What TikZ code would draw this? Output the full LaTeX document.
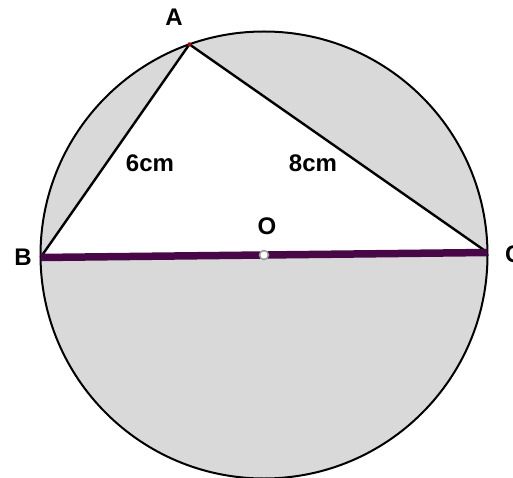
\documentclass[tikz,border=0pt]{standalone}
\usepackage{fontspec}
\setmainfont{Liberation Sans}
\usetikzlibrary{calc}
\definecolor{discgray}{RGB}{217,217,217}
\definecolor{diampurple}{RGB}{72,8,72}

\begin{document}
\begin{tikzpicture}[
  x=1pt, y=1pt,
  lbl/.style={font=\fontsize{24}{26}\selectfont\bfseries, inner sep=0pt},
  side/.style={draw=black, line width=2.4pt},
  diam/.style={draw=diampurple, line width=7.5pt},
  ctr/.style={circle, draw=black!40, fill=white, line width=1.5pt,
              inner sep=0pt, minimum size=9pt}
]
\useasboundingbox (0,0) rectangle (513,477);
\coordinate (O) at (264,222);
\coordinate (B) at ($(O)+(180.64:223.5)$);
\coordinate (C) at ($(O)+(0.64:223.5)$);
\coordinate (A) at ($(O)+(109.5:223.5)$);
% disc with the triangle cut out
\fill[discgray] (O) circle (223.5);
\fill[white] (A) -- (B) -- (C) -- cycle;
\draw[line width=2pt] (O) circle (223.5);
\draw[side] (B) -- (A) -- (C);
\draw[diam] (B) -- (C);
\fill[red!70!black] (A) circle (2pt);
\node[ctr] (o) at (O) {};
% labels
\node[lbl] (lA) at (174,460) {A};
\node[lbl] (lB) at (23,220) {B};
\node[lbl, anchor=west] (lC) at (505,223) {C};
\node[lbl] (lO) at (267,251) {O};
\node[lbl] (lAB) at (150,314) {6cm};
\node[lbl] (lAC) at (313,314) {8cm};
\end{tikzpicture}
\end{document}
